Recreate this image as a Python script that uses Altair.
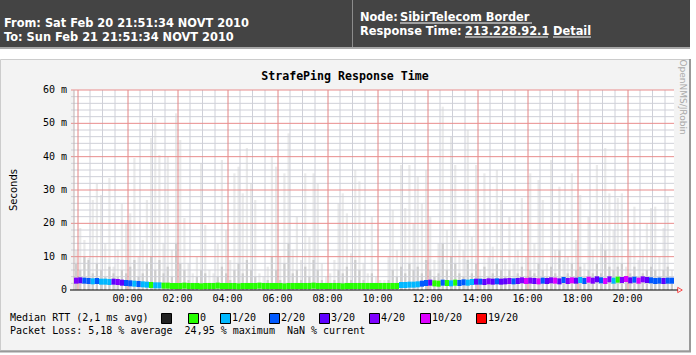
import altair as alt
import pandas as pd

# ---------------- layout ----------------
W, H = 600, 200
PL, PT, PR, PB = 74, 90, 22, 65


def px(x):
    return x - PL


def py(y):
    return y - PT


MONO = "DejaVu Sans Mono"
SANS = "DejaVu Sans"
NB = "\u00a0"

# ---------------- data ----------------
start = pd.Timestamp("2010-02-20 21:51:34")

# smoke (spread of ping times), ms, 10-minute bins
smoke_max = [
    12, 18.6, 15, 9.6, 27, 32, 28.5, 14, 33.6, 7, 12, 26,
    20, 23, 39.6, 10, 15, 27, 45.6, 51.6, 40.5, 14, 40, 12,
    53, 45, 21.6, 8, 5, 10, 38, 19.5, 6, 5, 14, 39,
    18, 9, 35, 37, 29, 42.6, 32, 27, 5, 4, 7, 40,
    37, 10, 35, 47, 12, 22, 9, 35, 16, 35, 32, 8,
    4, 5, 9, 26, 29, 23, 11, 36, 32.6, 8, 5, 22,
    4, 3, 3, 10, 24, 12, 37.5, 24.6, 37.5, 20, 34, 26,
    36, 22, 9, 14, 55, 18, 46, 37.5, 15, 12, 48, 16,
    37.5, 6, 35, 10, 13, 36, 27, 9, 22, 8, 12, 27.6,
    10, 35, 14, 33, 27, 8, 39, 12, 31, 9, 10, 35,
    15, 28.5, 8, 22, 12, 37.5, 14, 42.6, 29, 18, 27.6, 29,
    7, 12, 25, 9, 12, 20, 24.6, 25, 10, 18.6, 28, 6,
]
smoke_dark = [
    8, 6, 10, 9, 5, 8, 6, 4, 7, 5, 4, 6,
    5, 7, 9, 4, 5, 8, 10, 6, 9, 5, 7, 4,
    14, 8, 6, 3, 2, 4, 6, 5, 2, 2, 4, 7,
    5, 3, 6, 8, 5, 9, 6, 4, 2, 2, 3, 10,
    6, 3, 8, 14, 5, 6, 3, 7, 4, 9, 6, 3,
    2, 2, 3, 6, 5, 7, 3, 9, 6, 3, 2, 5,
    2, 2, 2, 3, 6, 4, 7, 5, 8, 6, 7, 5,
    9, 6, 4, 5, 14, 6, 10, 8, 5, 4, 9, 5,
    8, 3, 7, 4, 5, 8, 6, 4, 6, 3, 5, 7,
    4, 6, 5, 8, 6, 4, 7, 5, 12, 4, 5, 8,
    6, 7, 4, 6, 5, 8, 5, 12, 7, 6, 7, 8,
    4, 5, 7, 4, 5, 6, 7, 6, 4, 6, 7, 3,
]
median_ms = [
    2.8, 2.9, 2.8, 2.7, 2.6, 2.7, 2.5, 2.5, 2.4, 2.5, 2.4, 2.2,
    2.1, 2.0, 1.9, 1.8, 1.7, 1.6, 1.5, 1.4, 1.4, 1.3, 1.3, 1.2,
    1.2, 1.2, 1.3, 1.2, 1.2, 1.2, 1.1, 1.2, 1.2, 1.2, 1.3, 1.2,
    1.2, 1.2, 1.2, 1.1, 1.2, 1.2, 1.2, 1.2, 1.3, 1.2, 1.2, 1.2,
    1.2, 1.2, 1.1, 1.2, 1.2, 1.2, 1.2, 1.2, 1.2, 1.3, 1.2, 1.2,
    1.2, 1.2, 1.2, 1.2, 1.1, 1.2, 1.2, 1.2, 1.2, 1.2, 1.2, 1.2,
    1.2, 1.2, 1.2, 1.2, 1.2, 1.2, 1.5, 1.5, 1.6, 1.6, 1.7, 1.9,
    2.1, 2.2, 2.0, 1.9, 2.2, 2.1, 2.0, 2.2, 2.1, 2.3, 2.2, 2.4,
    2.5, 2.5, 2.4, 2.6, 2.5, 2.6, 2.5, 2.6, 2.7, 2.6, 2.7, 2.9,
    2.7, 2.8, 2.7, 2.6, 2.8, 2.7, 2.9, 2.8, 2.6, 3.0, 2.7, 2.9,
    2.8, 3.0, 2.7, 3.1, 2.8, 3.2, 2.9, 2.7, 3.2, 2.8, 3.1, 3.0,
    3.3, 2.9, 3.1, 2.8, 3.2, 3.0, 2.9, 2.7, 2.8, 2.7, 2.8, 2.8,
]
loss_idx = (
    [4, 3, 2, 2, 1, 2, 1, 1, 1, 3, 4, 3, 2, 2, 1, 2, 1, 1, 0, 1, 1]
    + [0] * 57
    + [1, 1, 1, 1, 1, 2]
    + [2, 3, 0, 0, 2, 0, 1, 0, 2, 2, 1, 1]
    + [3, 2, 3, 4, 3, 2, 3, 3, 4, 2, 3, 4]
    + [5, 4, 3, 5, 2, 3, 4, 5, 3, 2, 4, 5]
    + [3, 1, 2, 5, 4, 3, 2, 5, 4, 1, 0, 4]
    + [5, 3, 2, 5, 4, 3, 2, 2, 2, 3, 2, 2]
)
loss_labels = ["0", "1/20", "2/20", "3/20", "4/20", "10/20", "19/20"]
loss_colors = ["#26ff00", "#00b8ff", "#0059ff", "#5e00ff", "#7e00ff", "#dd00ff", "#ff0000"]

x_tick_times = ["2010-02-21T%02d:00:00Z" % h for h in range(0, 22, 2)]
x_tick_labels = ["%02d:00" % h for h in range(0, 22, 2)]
y_ticks = [0, 10, 20, 30, 40, 50, 60]
y_tick_labels = ["0", "10 m", "20 m", "30 m", "40 m", "50 m", "60 m"]


def iso(ts):
    return ts.strftime("%Y-%m-%dT%H:%M:%SZ")


n = len(smoke_max)
bins = pd.DataFrame({
    "t": [iso(start + pd.Timedelta(minutes=10 * i + 5)) for i in range(n)],
    "t0": [iso(start + pd.Timedelta(minutes=10 * i)) for i in range(n)],
    "t1": [iso(start + pd.Timedelta(minutes=10 * i + 10)) for i in range(n)],
    "smoke": smoke_max,
    "dark": smoke_dark,
    "median": median_ms,
    "loss": [loss_labels[k] for k in loss_idx],
})

# grid positions
first_half = pd.Timestamp("2010-02-20 22:00:00")
minor_t = [iso(first_half + pd.Timedelta(minutes=30 * k)) for k in range(48) if k % 4 != 0]
major_ts = [first_half + pd.Timedelta(hours=2 * k) for k in range(12)]
major_grid = pd.DataFrame({
    "t": [iso(ts) for ts in major_ts],
    "t2": [iso(ts + pd.Timedelta(seconds=144)) for ts in major_ts],
})
minor_v = [v for v in range(2, 61, 2) if v % 10 != 0]
major_v = [10, 20, 30, 40, 50, 60]

xscale = alt.Scale(
    type="utc",
    domain=[
        alt.DateTime(year=2010, month=2, date=20, hours=21, minutes=51, seconds=34, utc=True),
        alt.DateTime(year=2010, month=2, date=21, hours=21, minutes=51, seconds=34, utc=True),
    ],
)
yscale = alt.Scale(domain=[0, 60], nice=False, zero=True)

one = pd.DataFrame({"a": [0]})
layers = []


def vrect(x1, y1, x2, y2, **kw):
    return alt.Chart(one).mark_rect(**kw).encode(
        x=alt.value(px(x1)), x2=alt.value(px(x2)), y=alt.value(py(y1)), y2=alt.value(py(y2))
    )


def hline(x1, x2, y, color, width=1):
    return alt.Chart(one).mark_rule(color=color, strokeWidth=width).encode(
        x=alt.value(px(x1)), x2=alt.value(px(x2)), y=alt.value(py(y))
    )


def vline(x, y1, y2, color, width=1):
    return alt.Chart(one).mark_rule(color=color, strokeWidth=width).encode(
        x=alt.value(px(x)), y=alt.value(py(y1)), y2=alt.value(py(y2))
    )


def text(s, x, y, size=10, font=MONO, weight="normal", color="#000000", align="left", angle=0):
    return alt.Chart(one).mark_text(
        text=s, font=font, fontSize=size, fontWeight=weight, color=color,
        align=align, baseline="middle", angle=angle
    ).encode(x=alt.value(px(x)), y=alt.value(py(y)))


# ---------------- header ----------------
layers.append(vrect(0, 0, 690, 47, color="#444444"))
layers.append(hline(0, 690, 48, "#a8a8a8", 2))
layers.append(vline(352.5, 0, 47, "#8c8c8c", 1))
HB = dict(size=11.4, font=SANS, weight="bold", color="#ffffff")
layers.append(text("From: Sat Feb 20 21:51:34 NOVT 2010", 4, 24, **HB))
layers.append(text("To: Sun Feb 21 21:51:34 NOVT 2010", 4, 38, **HB))
layers.append(text("Node:", 360, 17.5, **HB))
layers.append(text("SibirTelecom Border", 400, 17.5, **HB))
layers.append(text("Response Time:", 360, 31.5, **HB))
layers.append(text("213.228.92.1", 465, 31.5, **HB))
layers.append(text("Detail", 553, 31.5, **HB))
layers.append(hline(400, 532, 23, "#ffffff", 1))
layers.append(hline(465, 548, 37, "#ffffff", 1))
layers.append(hline(553, 591, 37, "#ffffff", 1))

# ---------------- graph box ----------------
layers.append(vrect(0.5, 59.5, 689.5, 350.5, color="#f3f3f3", stroke="#cccccc", strokeWidth=1))
layers.append(vline(690, 59, 352, "#999999", 2))
layers.append(hline(0, 691, 351.5, "#999999", 2))
layers.append(vrect(74, 90, 674, 290, color="#ffffff"))

# ---------------- smoke ----------------
layers.append(
    alt.Chart(bins).mark_rule(color="#eaeaea", strokeWidth=2.2).encode(
        x=alt.X("t:T", scale=xscale, axis=None),
        y=alt.Y("smoke:Q", scale=yscale, axis=None),
        y2=alt.datum(0),
    )
)
layers.append(
    alt.Chart(bins).mark_rule(color="#cdcdcd", strokeWidth=2.2).encode(
        x=alt.X("t:T", scale=xscale, axis=None),
        y=alt.Y("dark:Q", scale=yscale, axis=None),
        y2=alt.datum(0),
    )
)

# ---------------- grid ----------------
layers.append(
    alt.Chart(pd.DataFrame({"t": minor_t})).mark_rule(strokeWidth=1).encode(
        x=alt.X("t:T", scale=xscale, axis=None), y=alt.value(0), y2=alt.value(H),
        color=alt.value("#cfd0d8"),
    )
)
layers.append(
    alt.Chart(pd.DataFrame({"v": minor_v})).mark_rule(strokeWidth=1).encode(
        y=alt.Y("v:Q", scale=yscale, axis=None), x=alt.value(-3), x2=alt.value(W),
        color=alt.value("#cfd0d8"),
    )
)
layers.append(
    alt.Chart(major_grid).mark_rect().encode(
        x=alt.X("t:T", scale=xscale, axis=None), x2="t2:T", y=alt.value(0), y2=alt.value(H),
        color=alt.value("#e48484"),
    )
)
layers.append(
    alt.Chart(pd.DataFrame({"v": major_v})).mark_rule(strokeWidth=1).encode(
        y=alt.Y("v:Q", scale=yscale, axis=None), x=alt.value(-3), x2=alt.value(W),
        color=alt.value("#e88c8c"),
    )
)

# ---------------- axes lines ----------------
layers.append(vline(74, 90, 290, "#c0b0b0", 1))
layers.append(hline(70, 678, 290, "#000000", 1))
layers.append(
    alt.Chart(one).mark_point(shape="triangle-right", filled=False, color="#ff0000", size=28, strokeWidth=1).encode(
        x=alt.value(px(680)), y=alt.value(py(290))
    )
)

# ---------------- median ----------------
layers.append(
    alt.Chart(bins).mark_rule(strokeWidth=6, strokeCap="butt").encode(
        x=alt.X("t0:T", scale=xscale, axis=None),
        x2="t1:T",
        y=alt.Y("median:Q", scale=yscale, axis=None),
        color=alt.Color("loss:N", scale=alt.Scale(domain=loss_labels, range=loss_colors), legend=None),
    )
)

# ---------------- tick labels & titles ----------------
layers.append(
    alt.Chart(pd.DataFrame({"t": x_tick_times, "lab": x_tick_labels})).mark_text(
        font=MONO, fontSize=10, color="#000000", baseline="middle", align="center"
    ).encode(x=alt.X("t:T", scale=xscale, axis=None), y=alt.value(py(299)), text="lab:N")
)
layers.append(
    alt.Chart(pd.DataFrame({"v": y_ticks, "lab": y_tick_labels})).mark_text(
        font=MONO, fontSize=10, color="#000000", baseline="middle", align="right"
    ).encode(y=alt.Y("v:Q", scale=yscale, axis=None), x=alt.value(px(67)), text="lab:N")
)
layers.append(text("StrafePing Response Time", 345, 77, size=11.6, weight="bold", align="center"))
layers.append(text("Seconds", 14, 190, size=10, font=SANS, align="center", angle=270))
layers.append(text("OpenNMS/JRobin", 683, 97, size=9, font=SANS, color="#aaaaaa", align="center", angle=90))

# ---------------- legend ----------------
layers.append(text("Median RTT (2,1 ms avg)", 10, 318, size=10))
layers.append(vrect(161.5, 313.5, 171.5, 323.5, color="#222222", stroke="#000000", strokeWidth=1))
legend_box_x = [188, 220, 269, 319, 369, 420, 476]
for bx, lab, col in zip(legend_box_x, loss_labels, loss_colors):
    layers.append(vrect(bx + 0.5, 313.5, bx + 10.5, 323.5, color=col, stroke="#000000", strokeWidth=1))
    layers.append(text(lab, bx + 12, 318, size=10))
loss_line = ("Packet Loss: 5,18 % average" + NB + NB + "24,95 % maximum" + NB + NB + "NaN % current").replace(" ", NB)
layers.append(text(loss_line, 10, 331, size=10))

chart = alt.layer(*layers).properties(
    width=W,
    height=H,
    autosize="none",
    padding={"left": PL, "top": PT, "right": PR, "bottom": PB},
    background="#ffffff",
).configure_view(stroke=None)

chart.save("out.html", embed_options={"renderer": "svg", "actions": False})
